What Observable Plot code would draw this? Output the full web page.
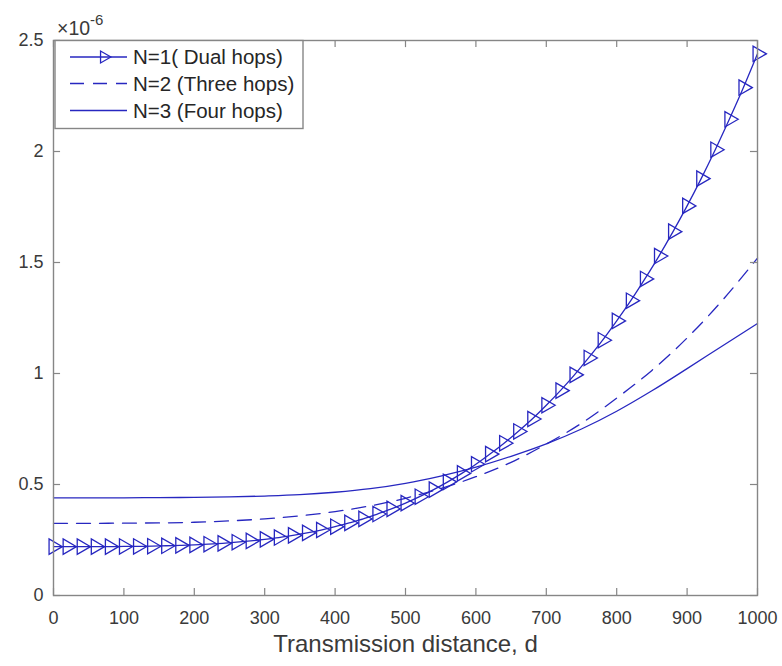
<!DOCTYPE html>
<html><head><meta charset="utf-8">
<script src="https://cdn.jsdelivr.net/npm/d3@7"></script>
<script src="https://cdn.jsdelivr.net/npm/@observablehq/plot@0.6"></script>
<style>
body{margin:0;background:#fff;}
#chart{width:782px;height:666px;}
</style></head><body><div id="chart"></div>
<script>
// ---- data (y values in units of 1e-6) ----
const distanceN1 = [0,20,40,60,80,100,120,140,160,180,200,220,240,260,280,300,320,340,360,380,400,420,440,460,480,500,520,540,560,580,600,620,640,660,680,700,720,740,760,780,800,820,840,860,880,900,920,940,960,980,1000];
const valuesN1 = [0.220,0.220,0.220,0.220,0.220,0.221,0.221,0.222,0.224,0.226,0.228,0.231,0.235,0.240,0.246,0.253,0.261,0.271,0.282,0.295,0.310,0.327,0.345,0.367,0.390,0.416,0.445,0.477,0.512,0.550,0.591,0.637,0.686,0.739,0.795,0.857,0.923,0.994,1.070,1.150,1.237,1.328,1.426,1.529,1.639,1.755,1.878,2.008,2.145,2.288,2.440];
const distanceN23 = [0,50,100,150,200,250,300,350,400,450,500,550,600,650,700,750,800,850,900,950,1000];
const valuesN2 = [0.325,0.325,0.326,0.327,0.330,0.336,0.345,0.359,0.378,0.404,0.438,0.482,0.535,0.600,0.682,0.776,0.889,1.014,1.160,1.329,1.520];
const valuesN3 = [0.440,0.440,0.440,0.441,0.442,0.444,0.448,0.454,0.465,0.481,0.505,0.538,0.578,0.627,0.683,0.750,0.830,0.922,1.022,1.124,1.225];
const seriesNames = ["N=1( Dual hops)","N=2 (Three hops)","N=3 (Four hops)"];
const xTicks = [0,100,200,300,400,500,600,700,800,900,1000];
const yTicks = [0,0.5,1,1.5,2,2.5];
const xLabel = "Transmission distance, d";
const exponentBase = "\u00d710";
const exponentPower = "-6";

// ---- tables ----
const n1 = distanceN1.map((d,i)=>({d, v: valuesN1[i]}));
const n2 = distanceN23.map((d,i)=>({d, v: valuesN2[i]}));
const n3 = distanceN23.map((d,i)=>({d, v: valuesN3[i]}));

const blue = "#2727c0";
const gray = "#868686";
const textColor = "#3a3a3a";
const font = "'Liberation Sans', Arial, Helvetica, sans-serif";
const markerR = 5.7;

const plot = Plot.plot({
  width: 782, height: 666,
  marginLeft: 53, marginRight: 25, marginTop: 40, marginBottom: 71,
  style: {fontFamily: font, fontSize: "18px", color: textColor, background: "white", overflow: "visible"},
  x: {domain: [0,1000], label: null},
  y: {domain: [0,2.5], label: null},
  marks: [
    Plot.line(n3, {x: "d", y: "v", stroke: blue, strokeWidth: 1.3, curve: "monotone-x"}),
    Plot.line(n2, {x: "d", y: "v", stroke: blue, strokeWidth: 1.3, strokeDasharray: "14,9", curve: "monotone-x"}),
    Plot.line(n1, {x: "d", y: "v", stroke: blue, strokeWidth: 1.3, curve: "monotone-x"}),
    Plot.dot(n1, {x: "d", y: "v", symbol: "triangle", rotate: 90, r: markerR, stroke: blue, strokeWidth: 1.3, fill: "none"}),
    Plot.frame({stroke: gray, strokeWidth: 1.4}),
    Plot.ruleY(yTicks, {y: d => d, x1: 0, x2: 10, stroke: gray, strokeWidth: 1.2}),
    Plot.ruleY(yTicks, {y: d => d, x1: 990, x2: 1000, stroke: gray, strokeWidth: 1.2}),
    Plot.ruleX(xTicks, {x: d => d, y1: 0, y2: 0.032, stroke: gray, strokeWidth: 1.2}),
    Plot.ruleX(xTicks, {x: d => d, y1: 2.468, y2: 2.5, stroke: gray, strokeWidth: 1.2}),
    Plot.axisX({ticks: xTicks, tickFormat: d => String(d), tickSize: 0, tickPadding: 16, label: null, fill: textColor}),
    Plot.axisY({ticks: yTicks, tickFormat: d => String(d), tickSize: 0, tickPadding: 10, label: null, fill: textColor}),
    Plot.text([xLabel], {text: d => d, frameAnchor: "bottom", dy: 56, fontSize: 24, fill: textColor})
  ]
});
document.getElementById("chart").appendChild(plot);

// ---- exponent label ----
const svg = d3.select(plot);
const xs = plot.scale("x"), ys = plot.scale("y");
const x0 = xs.apply(0), yTop = ys.apply(2.5);
const exp = svg.append("text").attr("x", x0 + 4).attr("y", yTop - 5)
  .attr("text-anchor", "start")
  .attr("font-family", font).attr("font-size", 19.5).attr("fill", textColor);
exp.append("tspan").text(exponentBase);
exp.append("tspan").attr("dy", -10).attr("font-size", 15).text(exponentPower);

// ---- legend ----
const lg = svg.append("g");
const lx = x0 + 2, ly = yTop + 0.5, lw = 248, lh = 88;
lg.append("rect").attr("x", lx).attr("y", ly).attr("width", lw).attr("height", lh)
  .attr("fill", "white").attr("stroke", gray).attr("stroke-width", 1.4);
const rowY = [ly + 16.5, ly + 43, ly + 70];
const dashes = [null, "14,9", null];
seriesNames.forEach((name, i) => {
  lg.append("line").attr("x1", lx + 15).attr("x2", lx + 72).attr("y1", rowY[i]).attr("y2", rowY[i])
    .attr("stroke", blue).attr("stroke-width", 1.3).attr("stroke-dasharray", dashes[i]);
  lg.append("text").attr("x", lx + 78).attr("y", rowY[i]).attr("dy", "0.35em")
    .attr("text-anchor", "start")
    .attr("font-family", font).attr("font-size", 20.5).attr("fill", "#262626").text(name);
});
lg.append("path").attr("d", d3.symbol(d3.symbolTriangle2, Math.PI * markerR * markerR)())
  .attr("transform", `translate(${lx + 49},${rowY[0]}) rotate(90)`)
  .attr("fill", "none").attr("stroke", blue).attr("stroke-width", 1.3);
</script></body></html>
